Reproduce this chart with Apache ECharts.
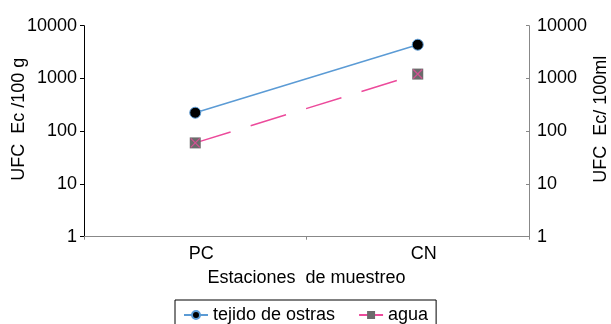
<!DOCTYPE html>
<html>
<head>
<meta charset="utf-8">
<script src="https://cdn.jsdelivr.net/npm/echarts@6/dist/echarts.min.js"></script>
<style>html,body{margin:0;padding:0;background:#fff;}#c{width:611px;height:324px;}</style>
</head>
<body>
<div id="c"></div>
<script>
const categories = ['PC', 'CN'];
const tejido = [224, 4360];
const agua = [60, 1210];
const seriesNames = ['tejido de ostras', 'agua'];
const leftTitle = 'UFC  Ec /100 g';
const rightTitle = 'UFC  Ec/ 100ml';
const xTitle = 'Estaciones  de muestreo';

const FONT = 'Liberation Sans, Arial, sans-serif';
const FS = 18;
const chart = echarts.init(document.getElementById('c'), null, {renderer: 'canvas'});
const fmt = v => String(Math.round(v));
const yBase = {
  type: 'log', logBase: 10, min: 1, max: 10000,
  splitLine: {show: false},
  nameLocation: 'middle', nameRotate: 90, nameMoveOverlap: false,
  nameTextStyle: {fontFamily: FONT, fontSize: FS, color: '#000', padding: [0, 0, 0, 24]},
};
chart.setOption({
  animation: false,
  textStyle: {fontFamily: FONT},
  grid: {left: 84, right: 82, top: 25.7, bottom: 87.3, containLabel: false, outerBoundsMode: 'none'},
  legend: {
    data: seriesNames,
    left: 175, top: 300,
    padding: [6, 8, 6, 8],
    itemWidth: 24, itemHeight: 10, itemGap: 23,
    borderColor: '#000', borderWidth: 1, backgroundColor: '#fff',
    textStyle: {fontFamily: FONT, fontSize: FS, color: '#000'}
  },
  xAxis: {
    type: 'category', data: categories, boundaryGap: true,
    name: xTitle, nameLocation: 'middle', nameGap: 32, nameMoveOverlap: false,
    nameTextStyle: {fontFamily: FONT, fontSize: FS, color: '#000'},
    axisLine: {lineStyle: {color: '#888', width: 1}},
    axisTick: {show: true, length: 3, lineStyle: {color: '#888'}},
    axisLabel: {fontFamily: FONT, fontSize: FS, color: '#000', margin: 8, padding: [0, 0, 0, 12]}
  },
  yAxis: [
    Object.assign({}, yBase, {
      position: 'left', name: leftTitle, nameGap: 56,
      axisLine: {show: true, lineStyle: {color: '#000', width: 1}},
      axisTick: {show: true, length: 4, lineStyle: {color: '#000'}},
      axisLabel: {fontFamily: FONT, fontSize: FS, color: '#000', margin: 7, formatter: fmt}
    }),
    Object.assign({}, yBase, {
      position: 'right', name: rightTitle, nameGap: 63,
      axisLine: {show: true, lineStyle: {color: '#888', width: 1}},
      axisTick: {show: true, inside: true, length: 3, lineStyle: {color: '#888'}},
      axisLabel: {fontFamily: FONT, fontSize: FS, color: '#000', margin: 8, formatter: fmt}
    })
  ],
  series: [
    {
      name: seriesNames[0], type: 'line', data: tejido, yAxisIndex: 0,
      symbol: 'circle', symbolSize: 11,
      lineStyle: {color: '#5b9bd5', width: 1.5},
      itemStyle: {color: '#000', borderColor: '#5b9bd5', borderWidth: 1},
      z: 3
    },
    {
      name: seriesNames[1], type: 'line', data: agua, yAxisIndex: 0,
      symbol: 'rect', symbolSize: 11,
      lineStyle: {color: '#ec4a9b', width: 1.5, type: [37, 21]},
      itemStyle: {color: '#6b6b6b', borderColor: '#6b6b6b', borderWidth: 0},
      z: 2
    },
    {
      name: 'aguaX', type: 'scatter', data: agua, yAxisIndex: 0,
      symbol: 'path://M0,0L10,10M10,0L0,10', symbolSize: 9,
      itemStyle: {color: 'none', borderColor: '#ec4a9b', borderWidth: 1.3},
      silent: true, z: 4
    }
  ]
});
</script>
</body>
</html>
